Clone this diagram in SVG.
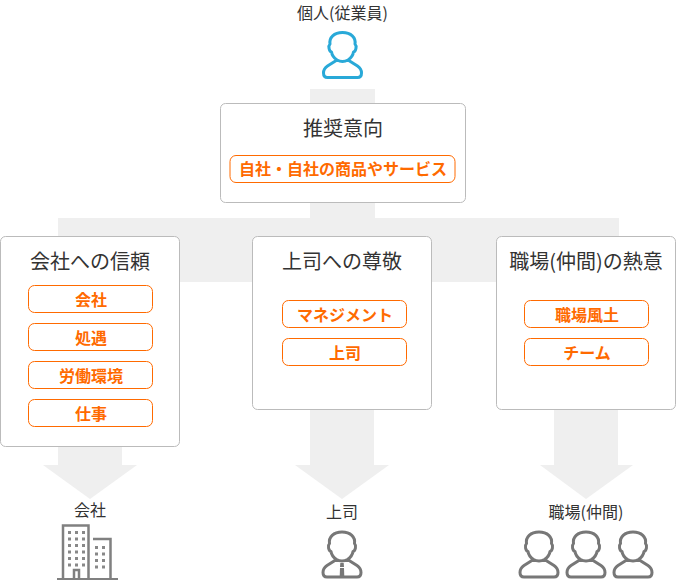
<svg xmlns="http://www.w3.org/2000/svg" width="676" height="581" viewBox="0 0 676 581">
<style>
text{font-family:"Noto Sans CJK JP","Liberation Sans",sans-serif;text-anchor:middle}
.flow{fill:#efefef}
.card{fill:#fff;stroke:#bbb;stroke-width:1}
.pill{fill:#fff;stroke:#ff6a00;stroke-width:1}
.title{font-size:20px;fill:#333}
.tag{font-size:16px;font-weight:700;fill:#ff6a00}
.cap{font-size:16px;fill:#333}
.p{fill:none;stroke-width:3;stroke-linejoin:round;stroke-linecap:round}
.g{stroke:#777}
</style>
<defs>
<path id="person" d="M-5.500 27.500C-8.500 25.500-10.500 23-11 19.500C-13.500 19-14.500 13.500-12.500 11.500C-13.500 5-8.500 0 0 0C8.500 0 13.500 5 12.500 11.500C14.500 13.500 13.500 19 11 19.500C10.500 23 8.500 25.500 5.500 27.500Q0 30.500-5.500 27.500L-15 33.500C-17.500 35.200-19 37.800-19 40.500C-19 44-17.500 45-15 45L15 45C17.500 45 19 44 19 40.500C19 37.800 17.500 35.200 15 33.500L5.500 27.500"/>
</defs>
<g id="connectors">
<rect class="flow" x="310" y="89" width="65" height="130"/>
<rect class="flow" x="58" y="218" width="561" height="64"/>
<path class="flow" d="M58 282H122V465H137L90 499L43 465H58Z"/>
<path class="flow" d="M310 282H374V465H389L342 499L295 465H310Z"/>
<path class="flow" d="M554 282H618V465H633L586 499L540 465H554Z"/>
</g>
<g id="top-person">
<text class="cap" x="342.500" y="18.500">個人(従業員)</text>
<use href="#person" class="p" stroke="#29a9d8" transform="translate(342.500 32.500)"/>
</g>
<g id="node-recommend">
<rect class="card" x="220.500" y="103.500" width="245" height="99" rx="5"/>
<text class="title" x="343" y="136">推奨意向</text>
<rect class="pill" x="230" y="155.500" width="225" height="27" rx="6"/>
<text class="tag" x="343" y="175">自社・自社の商品やサービス</text>
</g>
<g id="node-company">
<rect class="card" x="0.500" y="236.500" width="179" height="210" rx="5"/>
<text class="title" x="90" y="269">会社への信頼</text>
<rect class="pill" x="28.500" y="285.500" width="124" height="27" rx="6"/>
<text class="tag" x="91" y="306">会社</text>
<rect class="pill" x="28.500" y="323.500" width="124" height="27" rx="6"/>
<text class="tag" x="91" y="344">処遇</text>
<rect class="pill" x="28.500" y="361.500" width="124" height="27" rx="6"/>
<text class="tag" x="91" y="382">労働環境</text>
<rect class="pill" x="28.500" y="399.500" width="124" height="27" rx="6"/>
<text class="tag" x="91" y="420">仕事</text>
</g>
<g id="node-boss">
<rect class="card" x="252.500" y="236.500" width="179" height="173" rx="5"/>
<text class="title" x="342" y="269">上司への尊敬</text>
<rect class="pill" x="282.500" y="300.500" width="124" height="27" rx="6"/>
<text class="tag" x="345" y="321">マネジメント</text>
<rect class="pill" x="282.500" y="338.500" width="124" height="27" rx="6"/>
<text class="tag" x="345" y="359">上司</text>
</g>
<g id="node-workplace">
<rect class="card" x="496.500" y="236.500" width="179" height="173" rx="5"/>
<text class="title" x="586" y="269">職場(仲間)の熱意</text>
<rect class="pill" x="524.500" y="300.500" width="124" height="27" rx="6"/>
<text class="tag" x="587" y="321">職場風土</text>
<rect class="pill" x="524.500" y="338.500" width="124" height="27" rx="6"/>
<text class="tag" x="587" y="359">チーム</text>
</g>
<g id="company-icon">
<text class="cap" x="90" y="516">会社</text>
<path fill="none" stroke="#808080" stroke-width="2.500" d="M63 578V525.500H88.500V578M93 539H110.500V578M74 578V570H79V578"/>
<rect x="57" y="578" width="61" height="2" fill="#808080"/>
<path d="M68 531h3v3h-3zM75 531h3v3h-3zM82 531h3v3h-3zM68 537.500h3v3h-3zM75 537.500h3v3h-3zM82 537.500h3v3h-3zM68 544h3v3h-3zM75 544h3v3h-3zM82 544h3v3h-3zM68 550.500h3v3h-3zM75 550.500h3v3h-3zM82 550.500h3v3h-3zM68 557h3v3h-3zM75 557h3v3h-3zM82 557h3v3h-3zM68 563.500h3v3h-3zM75 563.500h3v3h-3zM82 563.500h3v3h-3zM95 546h3v3h-3zM102 546h3v3h-3zM95 552.500h3v3h-3zM102 552.500h3v3h-3zM95 559h3v3h-3zM102 559h3v3h-3zM95 565.500h3v3h-3zM102 565.500h3v3h-3z" fill="#888"/>
</g>
<g id="boss-icon">
<text class="cap" x="342" y="518">上司</text>
<use href="#person" class="p g" transform="translate(342 532)"/>
<path d="M340.300 563h3.400l.3 4h-4zM340 568h4l.3 9h-4.600z" fill="#777"/>
</g>
<g id="team-icon">
<text class="cap" x="586" y="518">職場(仲間)</text>
<use href="#person" class="p g" transform="translate(539 532)"/>
<use href="#person" class="p g" transform="translate(586 532)"/>
<use href="#person" class="p g" transform="translate(633 532)"/>
</g>
</svg>
